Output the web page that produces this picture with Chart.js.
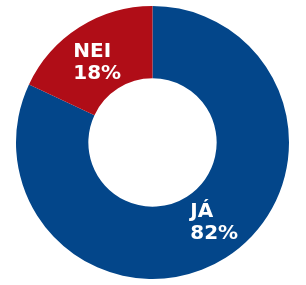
<!DOCTYPE html>
<html>
<head>
<meta charset="utf-8">
<script src="https://cdn.jsdelivr.net/npm/chart.js@4"></script>
<style>
html,body{margin:0;padding:0;background:#fff;}
#wrap{width:306px;height:285px;}
</style>
</head>
<body>
<div id="wrap"><canvas id="c" width="306" height="285"></canvas></div>
<script>
const categories = ["JÁ", "NEI"];
const values = [82, 18];
const valueLabels = ["82%", "18%"];
const colors = ["#03468a", "#b00d17"];

const labelPlugin = {
  id: 'sliceLabels',
  afterDatasetsDraw(chart) {
    const ctx = chart.ctx;
    const meta = chart.getDatasetMeta(0);
    const shifts = [[-16, -10.5], [-25.5, -1.1]];
    ctx.save();
    ctx.fillStyle = '#ffffff';
    ctx.font = 'bold 20px "DejaVu Sans"';
    ctx.textAlign = 'left';
    ctx.textBaseline = 'alphabetic';
    meta.data.forEach((arc, i) => {
      const p = arc.tooltipPosition();
      const x = p.x + shifts[i][0];
      const y = p.y + shifts[i][1];
      ctx.fillText(categories[i], x, y);
      ctx.fillText(valueLabels[i], x, y + 22);
    });
    ctx.restore();
  }
};

new Chart(document.getElementById('c'), {
  type: 'doughnut',
  data: {
    labels: categories,
    datasets: [{
      data: values,
      backgroundColor: colors,
      borderWidth: 0
    }]
  },
  options: {
    responsive: false,
    animation: false,
    cutout: '47%',
    layout: { padding: { left: 14, right: 15, top: 6, bottom: 6 } },
    plugins: { legend: { display: false }, tooltip: { enabled: false } }
  },
  plugins: [labelPlugin]
});
</script>
</body>
</html>
